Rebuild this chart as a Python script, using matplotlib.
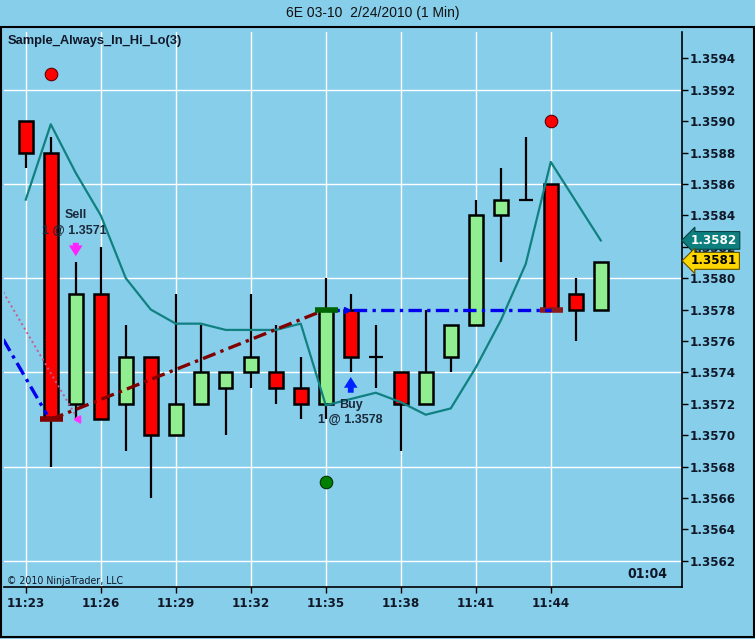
import matplotlib.pyplot as plt
import matplotlib as mpl
from matplotlib.patches import Rectangle
import numpy as np

# fonts
BOLD = ['DejaVu Sans']
mpl.rcParams['font.family'] = ['Liberation Sans', 'DejaVu Sans']

BG = '#87CEEB'
TXT = '#101828'

# 1 minute bars, 6E 03-10
times = ['11:23', '11:24', '11:25', '11:26', '11:27', '11:28', '11:29', '11:30',
         '11:31', '11:32', '11:33', '11:34', '11:35', '11:36', '11:37', '11:38',
         '11:39', '11:40', '11:41', '11:42', '11:43', '11:44', '11:45', '11:46']
opens = [1.3590, 1.3588, 1.3572, 1.3579, 1.3572, 1.3575, 1.3570, 1.3572,
         1.3573, 1.3574, 1.3574, 1.3573, 1.3572, 1.3578, 1.3575, 1.3574,
         1.3572, 1.3575, 1.3577, 1.3584, 1.3585, 1.3586, 1.3579, 1.3578]
highs = [1.3590, 1.3589, 1.3581, 1.3582, 1.3577, 1.3575, 1.3579, 1.3577,
         1.3574, 1.3579, 1.3577, 1.3575, 1.3580, 1.3579, 1.3577, 1.3574,
         1.3578, 1.3577, 1.3585, 1.3587, 1.3589, 1.3586, 1.3580, 1.3581]
lows = [1.3587, 1.3568, 1.3571, 1.3571, 1.3569, 1.3566, 1.3570, 1.3572,
        1.3570, 1.3573, 1.3572, 1.3571, 1.3571, 1.3574, 1.3573, 1.3569,
        1.3572, 1.3574, 1.3577, 1.3581, 1.3585, 1.3578, 1.3576, 1.3578]
closes = [1.3588, 1.3571, 1.3579, 1.3571, 1.3575, 1.3570, 1.3572, 1.3574,
          1.3574, 1.3575, 1.3573, 1.3572, 1.3578, 1.3575, 1.3575, 1.3572,
          1.3574, 1.3577, 1.3584, 1.3585, 1.3585, 1.3578, 1.3578, 1.3581]

# Sample_Always_In_Hi_Lo(3) line
hilo = [1.35850, 1.35898, 1.35867, 1.35840, 1.35800, 1.35780, 1.35771, 1.35771,
        1.35767, 1.35767, 1.35767, 1.35771, 1.35719, 1.35723, 1.35727, 1.35721,
        1.35713, 1.35717, 1.35743, 1.35773, 1.35809, 1.35874, 1.35849, 1.35824]

# signal dots
red_dot_bars = [1, 21]
red_dot_prices = [1.3593, 1.3590]
green_dot_bars = [12]
green_dot_prices = [1.3567]

# executions
sell_bar, sell_price = 1, 1.3571
buy_bar, buy_price = 12, 1.3578
exit_bar, exit_price = 21, 1.3578

# trade lines coming in from the left edge
prev_blue_x = [-0.9, 0.85]
prev_blue_y = [1.35761, 1.35713]
prev_pink_x = [-0.9, 2.09]
prev_pink_y = [1.35791, 1.35710]

last_close = closes[-1]
last_hilo = 1.3582

x = np.arange(len(times))

fig = plt.figure(figsize=(7.55, 6.39), dpi=100, facecolor=BG)
ax = fig.add_axes([4 / 755, 1 - 587 / 639, 678 / 755, 555 / 639], facecolor=BG)
ax.set_xlim(-0.87, 26.25)
ax.set_ylim(1.3560327, 1.3595675)

# grid
for g in np.arange(1.3562, 1.35925, 0.0006):
    ax.axhline(g, color='white', lw=1.0, zorder=0.5)
ax.set_xticks(x[::3])
ax.set_xticklabels(times[::3])
ax.grid(axis='x', color='white', lw=1.0, zorder=0.5)
ax.set_axisbelow(True)

# candles
ax.vlines(x, lows, highs, color='black', lw=1.6, zorder=2)
for i in x:
    o, c = opens[i], closes[i]
    if o == c:
        ax.hlines(o, i - 0.27, i + 0.27, color='black', lw=1.6, zorder=3)
    else:
        col = '#90EE90' if c > o else '#FF0000'
        ax.bar(i, abs(c - o), bottom=min(o, c), width=0.54, color=col,
               edgecolor='black', lw=1.8, zorder=3)

# indicator line
ax.plot(x, hilo, color='#108080', lw=1.6, zorder=5)

# trade lines
dashdot = (0, (4, 1.6, 1, 1.6))
ax.plot([sell_bar, buy_bar], [sell_price, buy_price], color='#800000', lw=2.4,
        ls=dashdot, zorder=6)
ax.plot([buy_bar, exit_bar], [buy_price, exit_price], color='#0000EE', lw=2.4,
        ls=dashdot, zorder=6)
ax.plot(prev_blue_x, prev_blue_y, color='#0000EE', lw=2.4, ls=dashdot, zorder=6)
ax.plot(prev_pink_x, prev_pink_y, color='#C85A8A', lw=1.4, ls=':', zorder=6)
ax.plot(prev_pink_x[-1], prev_pink_y[-1], marker=(3, 0, -30), ms=6,
        color='#FF33FF', zorder=7)
ax.plot(buy_bar + 0.85, buy_price, marker='>', ms=5, color='#0000EE', zorder=7)

# execution dashes
ax.hlines(sell_price, sell_bar - 0.45, sell_bar + 0.48, color='#800000', lw=4, zorder=7)
ax.hlines(buy_price, buy_bar - 0.45, buy_bar + 0.5, color='#006400', lw=4, zorder=7)
ax.hlines(exit_price, exit_bar - 0.42, exit_bar + 0.5, color='#8B1A1A', lw=4, zorder=5.5)

# signal dots
ax.plot(red_dot_bars, red_dot_prices, 'o', ms=9, color='#FF0000', mec='#600000', mew=0.8, zorder=8)
ax.plot(green_dot_bars, green_dot_prices, 'o', ms=9, color='#008000', mec='#003000', mew=0.8, zorder=8)

# sell / buy arrows and labels
arrow_style = 'simple,head_width=0.7,head_length=0.55,tail_width=0.3'
sx, sy = sell_bar + 1, highs[sell_bar + 1]
ax.annotate('', xy=(sx, sy + 0.00004), xytext=(sx, sy + 0.000125),
            arrowprops=dict(arrowstyle=arrow_style, color='#FF22FF', lw=0,
                            shrinkA=0, shrinkB=0, mutation_scale=14))
ax.text(sx, sy + 0.00030, 'Sell', ha='center', va='center', fontsize=9,
        fontweight='bold', color='#1a2a3a', zorder=9)
ax.text(sx - 0.05, sy + 0.00020, '1 @ %.4f' % sell_price, ha='center', va='center',
        fontsize=9, fontweight='bold', color='#1a2a3a', zorder=9)

bx, by = buy_bar + 1, lows[buy_bar + 1]
ax.annotate('', xy=(bx, by - 0.00003), xytext=(bx, by - 0.00013),
            arrowprops=dict(arrowstyle=arrow_style, color='#0022FF', lw=0,
                            shrinkA=0, shrinkB=0, mutation_scale=14))
ax.text(bx, by - 0.00021, 'Buy', ha='center', va='center', fontsize=9,
        fontweight='bold', color='#1a2a3a', zorder=9)
ax.text(bx - 0.02, by - 0.00030, '1 @ %.4f' % buy_price, ha='center', va='center',
        fontsize=9, fontweight='bold', color='#1a2a3a', zorder=9)

# axes styling
for s in ['left', 'top']:
    ax.spines[s].set_visible(False)
for s in ['right', 'bottom']:
    ax.spines[s].set_color('black')
    ax.spines[s].set_linewidth(1.2)
ax.yaxis.tick_right()
ax.set_yticks(np.arange(1.3562, 1.35945, 0.0002))
ax.yaxis.set_major_formatter(mpl.ticker.FormatStrFormatter('%.4f'))
ax.tick_params(axis='y', length=4, width=1, pad=1.5, colors='black')
ax.tick_params(axis='x', length=4, width=1, pad=3, colors='black')
for lab in ax.get_yticklabels():
    lab.set_fontfamily(BOLD)
    lab.set_fontstretch('condensed')
    lab.set_fontweight('bold')
    lab.set_fontsize(9.5)
    lab.set_color(TXT)
for lab in ax.get_xticklabels():
    lab.set_fontfamily(BOLD)
    lab.set_fontstretch('condensed')
    lab.set_fontweight('bold')
    lab.set_fontsize(9.5)
    lab.set_color(TXT)

# price markers on the axis
ax.text(1.0135, last_hilo + 0.00004, '%.4f' % last_hilo, transform=ax.get_yaxis_transform(),
        ha='left', va='center', fontsize=9.5, fontweight='bold', family=BOLD,
        fontstretch='condensed', color='white',
        bbox=dict(boxstyle='larrow,pad=0.18', fc='#0E7F7F', ec='#0a4040', lw=0.8), zorder=10,
        clip_on=False)
ax.text(1.0135, last_close + 0.00001, '%.4f' % last_close, transform=ax.get_yaxis_transform(),
        ha='left', va='center', fontsize=9.5, fontweight='bold', family=BOLD,
        fontstretch='condensed', color='black',
        bbox=dict(boxstyle='larrow,pad=0.15', fc='#FFD700', ec='#605000', lw=0.8), zorder=10,
        clip_on=False)

# texts
fig.text(373 / 755, 1 - 13 / 639, '6E 03-10  2/24/2010 (1 Min)', ha='center', va='center',
         fontsize=10, color='#111111')
fig.text(8 / 755, 1 - 41 / 639, 'Sample_Always_In_Hi_Lo(3)', ha='left', va='center',
         fontsize=9.3, fontweight='bold', color='#101828')
fig.text(7 / 755, 1 - 581 / 639, '\u00a9 2010 NinjaTrader, LLC', ha='left', va='center',
         fontsize=7.6, family=BOLD, fontstretch='condensed', color='#101828')
fig.text(647 / 755, 1 - 574 / 639, '01:04', ha='center', va='center', fontsize=10,
         fontweight='bold', family=BOLD, fontstretch='condensed', color='#101828')

# outer frame
fig.patches.append(Rectangle((1 / 755, 2 / 639), 753 / 755, 610 / 639, transform=fig.transFigure,
                             fill=False, edgecolor='black', lw=1.5))

fig.savefig('out.png', dpi=100, facecolor=BG)
